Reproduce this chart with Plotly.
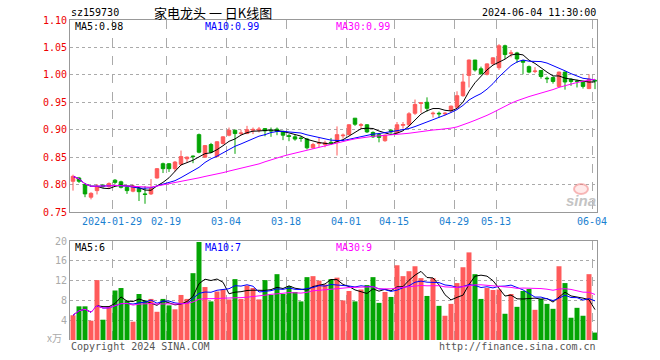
import pandas as pd
import plotly.graph_objects as go

# ---------------- data ----------------
holidays = ["2024-02-09", "2024-02-12", "2024-02-13", "2024-02-14", "2024-02-15",
            "2024-02-16", "2024-04-04", "2024-04-05", "2024-05-01", "2024-05-02", "2024-05-03"]
dates = [d for d in pd.bdate_range("2024-01-18", "2024-06-04").strftime("%Y-%m-%d") if d not in holidays]

opens = [0.806, 0.812, 0.800, 0.777, 0.789, 0.799, 0.796, 0.808, 0.805, 0.795,
         0.788, 0.793, 0.783, 0.783, 0.812, 0.838, 0.838, 0.829, 0.837, 0.847,
         0.852, 0.891, 0.850, 0.873, 0.851, 0.875, 0.890, 0.899, 0.893, 0.893,
         0.899, 0.899, 0.902, 0.899, 0.901, 0.897, 0.889, 0.887, 0.885, 0.883,
         0.867, 0.875, 0.873, 0.877, 0.878, 0.889, 0.891, 0.921, 0.908, 0.909,
         0.895, 0.891, 0.880, 0.899, 0.895, 0.908, 0.909, 0.930, 0.948, 0.950,
         0.929, 0.930, 0.929, 0.935, 0.941, 0.962, 0.999, 1.027, 1.011, 1.001,
         1.020, 1.013, 1.053, 1.039, 1.040, 1.026, 1.015, 1.006, 1.008, 0.994,
         0.995, 0.979, 1.005, 0.992, 0.9886, 0.988, 0.975, 0.990]
highs = [0.818, 0.814, 0.801, 0.786, 0.801, 0.800, 0.804, 0.810, 0.807, 0.797,
         0.800, 0.795, 0.797, 0.810, 0.830, 0.840, 0.839, 0.843, 0.862, 0.851,
         0.853, 0.893, 0.872, 0.876, 0.879, 0.888, 0.904, 0.900, 0.900, 0.907,
         0.904, 0.905, 0.903, 0.904, 0.904, 0.898, 0.892, 0.891, 0.888, 0.885,
         0.876, 0.886, 0.880, 0.885, 0.906, 0.893, 0.910, 0.921, 0.912, 0.910,
         0.897, 0.894, 0.891, 0.901, 0.914, 0.914, 0.932, 0.955, 0.950, 0.959,
         0.933, 0.933, 0.932, 0.944, 0.970, 1.002, 1.028, 1.027, 1.015, 1.021,
         1.032, 1.056, 1.055, 1.045, 1.042, 1.027, 1.017, 1.014, 1.008, 0.997,
         0.997, 1.006, 1.006, 0.994, 0.991, 0.989, 1.001, 0.992]
lows = [0.789, 0.803, 0.777, 0.773, 0.782, 0.794, 0.794, 0.801, 0.793, 0.783,
        0.786, 0.770, 0.765, 0.781, 0.811, 0.821, 0.823, 0.824, 0.835, 0.840,
        0.839, 0.857, 0.849, 0.857, 0.850, 0.873, 0.888, 0.856, 0.890, 0.892,
        0.892, 0.895, 0.888, 0.887, 0.890, 0.881, 0.879, 0.880, 0.878, 0.864,
        0.865, 0.868, 0.868, 0.873, 0.853, 0.884, 0.890, 0.907, 0.902, 0.894,
        0.885, 0.877, 0.878, 0.892, 0.893, 0.902, 0.907, 0.927, 0.931, 0.933,
        0.922, 0.922, 0.926, 0.932, 0.938, 0.960, 0.977, 1.006, 1.001, 0.999,
        1.019, 1.009, 1.029, 1.032, 1.022, 1.001, 1.003, 1.003, 0.993, 0.985,
        0.984, 0.977, 0.973, 0.980, 0.977, 0.975, 0.974, 0.974]
closes = [0.815, 0.806, 0.783, 0.784, 0.797, 0.797, 0.802, 0.804, 0.795, 0.789,
          0.797, 0.787, 0.782, 0.793, 0.829, 0.829, 0.829, 0.841, 0.851, 0.850,
          0.851, 0.859, 0.871, 0.859, 0.878, 0.887, 0.899, 0.893, 0.894, 0.900,
          0.9005, 0.901, 0.898, 0.898, 0.897, 0.890, 0.888, 0.883, 0.884, 0.867,
          0.873, 0.876, 0.876, 0.876, 0.891, 0.890, 0.909, 0.910, 0.909, 0.896,
          0.887, 0.886, 0.890, 0.896, 0.909, 0.9095, 0.929, 0.946, 0.949, 0.939,
          0.930, 0.929, 0.930, 0.943, 0.962, 0.987, 1.027, 1.009, 1.002, 1.020,
          1.031, 1.053, 1.037, 1.040, 1.029, 1.023, 1.005, 1.007, 0.997, 0.993,
          0.988, 1.005, 0.987, 0.988, 0.9882, 0.979, 0.992, 0.989]
volumes = [5.0, 6.8, 6.8, 3.9, 12.1, 4.1, 6.8, 10.0, 10.5, 7.9,
           3.7, 9.3, 8.0, 8.3, 5.7, 8.3, 7.0, 6.2, 9.1, 8.3,
           13.5, 19.8, 10.7, 7.8, 9.8, 10.2, 8.2, 12.3, 8.3, 11.0,
           10.5, 8.2, 12.1, 9.1, 13.3, 9.3, 10.9, 9.7, 7.8, 12.7,
           12.9, 12.0, 11.2, 12.3, 12.6, 8.0, 9.9, 7.8, 10.2, 11.1,
           12.7, 7.5, 9.7, 8.7, 15.1, 12.9, 13.9, 14.9, 12.5, 8.9,
           12.5, 6.9, 4.9, 7.3, 11.5, 14.7, 17.7, 13.3, 8.3, 10.5,
           10.1, 10.2, 5.3, 9.3, 6.7, 9.9, 10.3, 6.1, 8.3, 7.3,
           6.3, 14.9, 11.5, 4.5, 6.5, 4.9, 13.3, 1.5]

tick_dates = ["2024-01-29", "2024-02-19", "2024-03-04", "2024-03-18", "2024-04-01",
              "2024-04-15", "2024-04-29", "2024-05-13", "2024-06-04"]
tick_labels = ["2024-01-29", "02-19", "03-04", "03-18", "04-01", "04-15", "04-29", "05-13", "06-04"]
price_ticks = [0.75, 0.80, 0.85, 0.90, 0.95, 1.00, 1.05, 1.10]
vol_ticks = [4, 8, 12, 16, 20]

ma_price_labels = ["MA5:0.98", "MA10:0.99", "MA30:0.99"]
ma_vol_labels = ["MA5:6", "MA10:7", "MA30:9"]

# ---------------- derived ----------------
idx = list(range(len(dates)))
cs = pd.Series(closes)
vs = pd.Series(volumes)
ma = {n: cs.rolling(n, min_periods=1).mean() for n in (5, 10, 30)}
vma = {n: vs.rolling(n, min_periods=1).mean() for n in (5, 10, 30)}
tick_pos = [dates.index(d) - 0.5 for d in tick_dates]

RED = "#ff5a5a"
GREEN = "#04a504"
MA_COLORS = {5: "#000000", 10: "#0000ff", 30: "#ff00ff"}
vol_colors = [RED if c >= o else GREEN for o, c in zip(opens, closes)]

W, H = 660, 360
L, R = 70, 597
px = lambda x: x / W
py = lambda y: 1 - y / H
MONO = "DejaVu Sans Mono"

fig = go.Figure()
fig.add_trace(go.Candlestick(
    x=idx, open=opens, high=highs, low=lows, close=closes,
    increasing=dict(line=dict(color=RED, width=1), fillcolor=RED),
    decreasing=dict(line=dict(color=GREEN, width=1), fillcolor=GREEN),
    whiskerwidth=0, hoverinfo="skip", xaxis="x", yaxis="y"))
for n in (5, 10, 30):
    fig.add_trace(go.Scatter(x=idx, y=ma[n], mode="lines",
                             line=dict(color=MA_COLORS[n], width=1),
                             hoverinfo="skip", xaxis="x", yaxis="y"))

fig.add_trace(go.Bar(x=idx, y=volumes, marker=dict(color=vol_colors, line=dict(width=0)),
                     width=0.83, hoverinfo="skip", xaxis="x2", yaxis="y2"))
for n in (5, 10, 30):
    fig.add_trace(go.Scatter(x=idx, y=vma[n], mode="lines",
                             line=dict(color=MA_COLORS[n], width=1),
                             hoverinfo="skip", xaxis="x2", yaxis="y2"))

xr = [-0.5, -0.5 + (R - L) / 6.0]
grid = "#aaaaaa"
border = "#999999"
fig.update_layout(
    width=W, height=H, autosize=False,
    margin=dict(l=0, r=0, t=0, b=0, autoexpand=False),
    paper_bgcolor="white", plot_bgcolor="white",
    showlegend=False, boxgap=0.17, hovermode=False,
    xaxis=dict(domain=[px(L), px(R)], range=xr, rangeslider=dict(visible=False),
               tickvals=tick_pos, ticktext=tick_labels, ticks="",
               tickfont=dict(family=MONO, size=10, color="#1a80d0"),
               showgrid=True, gridcolor=grid, griddash="dash", gridwidth=1,
               showline=True, linecolor=border, linewidth=1, mirror=True,
               zeroline=False, anchor="y", automargin=False),
    yaxis=dict(domain=[py(212), py(20)], range=[0.75, 1.10],
               tickvals=price_ticks, tickformat=".2f", ticks="",
               tickfont=dict(family=MONO, size=10, color="#ee0000"),
               showgrid=True, gridcolor=grid, griddash="dot", gridwidth=1,
               showline=True, linecolor=border, linewidth=1, mirror=True,
               zeroline=False, anchor="x", automargin=False),
    xaxis2=dict(domain=[px(L), px(R)], range=xr, matches="x",
                tickvals=tick_pos, showticklabels=False, ticks="",
                showgrid=True, gridcolor=grid, griddash="dash", gridwidth=1,
                showline=True, linecolor=border, linewidth=1, side="top",
                zeroline=False, anchor="y2", automargin=False),
    yaxis2=dict(domain=[py(340), py(241)], range=[0, 20],
                tickvals=vol_ticks, ticks="",
                tickfont=dict(family=MONO, size=10, color="#aaaaaa"),
                showgrid=True, gridcolor=grid, griddash="dot", gridwidth=1,
                showline=True, linecolor=border, linewidth=1, mirror=True,
                zeroline=False, anchor="x2", automargin=False),
)

def note(text, x, y, color="#000000", anchor="left", size=10, family=MONO, **kw):
    fig.add_annotation(text=text, x=px(x), y=py(y), xref="paper", yref="paper",
                       xanchor=anchor, yanchor="middle", showarrow=False,
                       font=dict(family=family, size=size, color=color), **kw)

note("sz159730", 69, 13)
note("家电龙头 一 日K线图", 213, 13, anchor="center", size=13, family="Noto Sans CJK SC")
note("2024-06-04 11:30:00", 598, 13, anchor="right")
for lab, xx, n in zip(ma_price_labels, (73, 203, 334), (5, 10, 30)):
    note(lab, xx, 27, color=MA_COLORS[n])
for lab, xx, n in zip(ma_vol_labels, (73, 203, 334), (5, 10, 30)):
    note(lab, xx, 247, color=MA_COLORS[n])
note("x万", 64, 337, color="#aaaaaa", anchor="right", size=10, family="Noto Sans CJK SC")
note("Copyright 2024 SINA.COM", 69, 346, color="#555555")
note("http://finance.sina.com.cn", 598, 346, color="#555555", anchor="right")
note("<b><i>sina</i></b>", 581, 200, color="#c4c4c4", anchor="center", size=15,
     family="Liberation Sans")
fig.add_shape(type="circle", xref="paper", yref="paper",
              x0=px(574), x1=px(588), y0=py(194), y1=py(184),
              line=dict(color="rgba(240,120,120,0.5)", width=2),
              fillcolor="rgba(255,170,170,0.25)")

fig.write_html("out.html", config={"displayModeBar": False, "staticPlot": True},
               post_script="document.body.style.margin='0';document.body.style.overflow='hidden';")
